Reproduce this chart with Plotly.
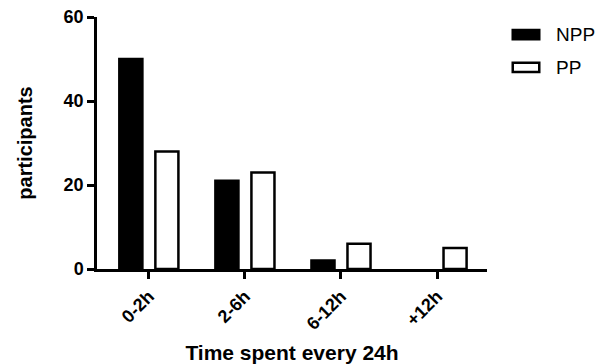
import plotly.graph_objects as go

# Hours per 24h spent, grouped by participant type
categories = ["0-2h", "2-6h", "6-12h", "+12h"]
series_names = ["NPP", "PP"]
npp_values = [50, 21, 2, 0]
pp_values = [28, 23, 6, 5]
y_ticks = [0, 20, 40, 60]

FONT = "Liberation Sans, Arial, Helvetica, sans-serif"
fills = ["black", "white"]

fig = go.Figure()
for name, vals, fill in zip(series_names, [npp_values, pp_values], fills):
    # empty groups get no outline, so a zero count draws nothing
    widths = [2.5 if v > 0 else 0 for v in vals]
    fig.add_trace(go.Bar(
        x=categories, y=vals, name=name,
        marker=dict(color=fill, line=dict(color="black", width=widths)),
        showlegend=False,
    ))

# Legend drawn as wide outlined boxes with labels to their right
legend_rows = [0.93, 0.80]
for name, fill, yc in zip(series_names, fills, legend_rows):
    fig.add_shape(type="rect", xref="paper", yref="paper",
                  x0=1.066, x1=1.134, y0=yc - 0.018, y1=yc + 0.018,
                  fillcolor=fill, line=dict(color="black", width=2.5))
    fig.add_annotation(xref="paper", yref="paper", x=1.172, y=yc,
                       text=name, showarrow=False, xanchor="left", yanchor="middle",
                       font=dict(family=FONT, size=19, color="black"))

fig.update_layout(
    width=607, height=364,
    margin=dict(l=97, r=120, t=17, b=95),
    paper_bgcolor="white", plot_bgcolor="white",
    barmode="group", bargap=0.25, bargroupgap=0.36,
    font=dict(family=FONT, color="black"),
)
fig.update_xaxes(
    range=[-0.54, 3.52], automargin=False,
    showline=True, linecolor="black", linewidth=2.5,
    ticks="outside", ticklen=7, tickwidth=2.5, tickcolor="black",
    tickangle=-45,
    tickfont=dict(family=FONT, size=18, weight="bold", color="black"),
    title=dict(text="Time spent every 24h",
               font=dict(family=FONT, size=21, weight="bold", color="black")),
    showgrid=False, zeroline=False, fixedrange=True,
)
fig.update_yaxes(
    range=[0, 60], tickvals=y_ticks, automargin=False,
    showline=True, linecolor="black", linewidth=2.5,
    ticks="outside", ticklen=7, tickwidth=2.5, tickcolor="black",
    tickfont=dict(family=FONT, size=18, weight="bold", color="black"),
    title=dict(text="participants", standoff=26,
               font=dict(family=FONT, size=20, weight="bold", color="black")),
    showgrid=False, zeroline=False, fixedrange=True,
)

fig.write_html("out.html", config={"displayModeBar": False})
